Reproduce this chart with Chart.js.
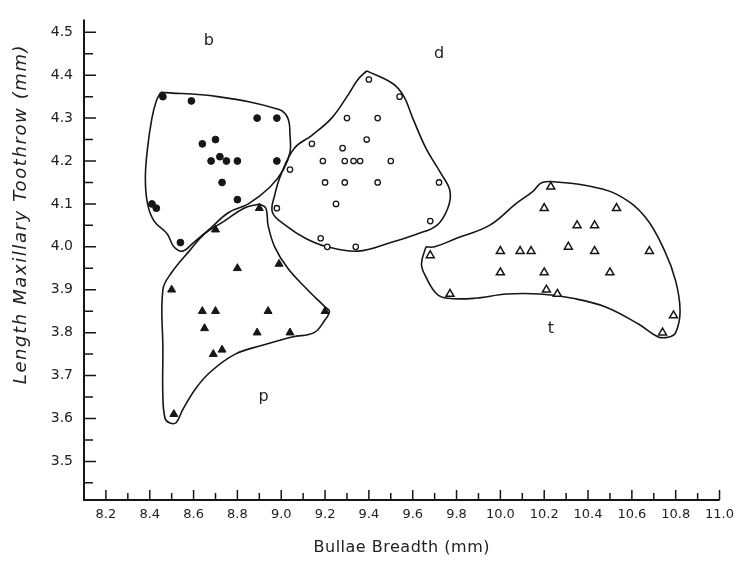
<!DOCTYPE html>
<html>
<head>
<meta charset="utf-8">
<script src="https://cdn.jsdelivr.net/npm/chart.js@4.4.0/dist/chart.umd.min.js"></script>
<style>
  html, body { margin: 0; padding: 0; background: #fff; }
  #wrap { width: 741px; height: 562px; }
</style>
</head>
<body>
<div id="wrap"><canvas id="chart" width="741" height="562"></canvas></div>
<script>
// Tick labels
const xTickLabels = [8.2, 8.4, 8.6, 8.8, 9.0, 9.2, 9.4, 9.6, 9.8, 10.0, 10.2, 10.4, 10.6, 10.8, 11.0];
const yTickLabels = [3.5, 3.6, 3.7, 3.8, 3.9, 4.0, 4.1, 4.2, 4.3, 4.4, 4.5];

// Group names and where their letters sit
const groupNames = ['b', 'd', 'p', 't'];
const labelX = [8.67, 9.72, 8.92, 10.23];
const labelY = [4.48, 4.45, 3.65, 3.81];

// b - filled circles
const bX = [8.46, 8.59, 8.89, 8.98, 8.64, 8.70, 8.72, 8.68, 8.75, 8.80, 8.98, 8.73, 8.80, 8.41, 8.43, 8.54];
const bY = [4.35, 4.34, 4.30, 4.30, 4.24, 4.25, 4.21, 4.20, 4.20, 4.20, 4.20, 4.15, 4.11, 4.10, 4.09, 4.01];

// d - open circles
const dX = [9.40, 9.54, 9.30, 9.44, 9.14, 9.39, 9.28, 9.19, 9.29, 9.33, 9.36, 9.50, 9.04, 9.20, 9.29, 9.44, 9.72, 9.25, 8.98, 9.68, 9.18, 9.21, 9.34];
const dY = [4.39, 4.35, 4.30, 4.30, 4.24, 4.25, 4.23, 4.20, 4.20, 4.20, 4.20, 4.20, 4.18, 4.15, 4.15, 4.15, 4.15, 4.10, 4.09, 4.06, 4.02, 4.00, 4.00];

// p - filled triangles
const pX = [8.90, 8.70, 8.80, 8.99, 8.50, 8.64, 8.70, 8.94, 9.20, 8.65, 8.89, 9.04, 8.69, 8.73, 8.51];
const pY = [4.09, 4.04, 3.95, 3.96, 3.90, 3.85, 3.85, 3.85, 3.85, 3.81, 3.80, 3.80, 3.75, 3.76, 3.61];

// t - open triangles
const tX = [10.23, 10.20, 10.53, 10.35, 10.43, 9.68, 10.00, 10.09, 10.14, 10.31, 10.43, 10.68, 10.00, 10.20, 10.50, 9.77, 10.21, 10.26, 10.79, 10.74];
const tY = [4.14, 4.09, 4.09, 4.05, 4.05, 3.98, 3.99, 3.99, 3.99, 4.00, 3.99, 3.99, 3.94, 3.94, 3.94, 3.89, 3.90, 3.89, 3.84, 3.80];

// hand drawn outlines round each group
const bOutlineX = [8.45, 8.71, 8.99, 9.03, 9.04, 9.04, 9.01, 8.95, 8.85, 8.76, 8.67, 8.60, 8.55, 8.51, 8.48, 8.42, 8.39, 8.38, 8.39, 8.41, 8.43, 8.45];
const bOutlineY = [4.36, 4.35, 4.32, 4.30, 4.26, 4.22, 4.18, 4.14, 4.10, 4.08, 4.04, 4.01, 3.99, 4.00, 4.03, 4.06, 4.10, 4.16, 4.23, 4.30, 4.34, 4.36];

const dOutlineX = [9.39, 9.51, 9.56, 9.60, 9.66, 9.73, 9.77, 9.76, 9.71, 9.62, 9.50, 9.35, 9.21, 9.11, 9.02, 8.96, 8.97, 9.00, 9.06, 9.14, 9.23, 9.30, 9.35, 9.39];
const dOutlineY = [4.41, 4.38, 4.35, 4.30, 4.23, 4.17, 4.13, 4.09, 4.05, 4.03, 4.01, 3.99, 4.00, 4.02, 4.05, 4.08, 4.12, 4.17, 4.23, 4.26, 4.30, 4.35, 4.39, 4.41];

const pOutlineX = [8.90, 8.93, 8.94, 8.97, 9.03, 9.12, 9.20, 9.22, 9.20, 9.15, 9.05, 8.91, 8.79, 8.68, 8.61, 8.55, 8.52, 8.49, 8.47, 8.46, 8.46, 8.46, 8.50, 8.58, 8.65, 8.74, 8.83, 8.90];
const pOutlineY = [4.10, 4.09, 4.05, 4.00, 3.95, 3.90, 3.86, 3.85, 3.83, 3.80, 3.79, 3.77, 3.75, 3.71, 3.67, 3.62, 3.59, 3.59, 3.60, 3.65, 3.76, 3.90, 3.94, 3.99, 4.03, 4.06, 4.09, 4.10];

const tOutlineX = [9.66, 9.70, 9.80, 9.95, 10.07, 10.15, 10.19, 10.28, 10.42, 10.54, 10.66, 10.75, 10.80, 10.82, 10.80, 10.77, 10.72, 10.63, 10.48, 10.33, 10.18, 10.03, 9.88, 9.76, 9.71, 9.66, 9.64, 9.66];
const tOutlineY = [4.00, 4.00, 4.02, 4.05, 4.10, 4.13, 4.15, 4.15, 4.14, 4.12, 4.07, 3.99, 3.92, 3.85, 3.80, 3.79, 3.79, 3.82, 3.86, 3.88, 3.89, 3.89, 3.88, 3.88, 3.89, 3.93, 3.96, 4.00];

const ink = '#161616';

function pairs(xs, ys) {
  return xs.map((x, i) => ({ x: x, y: ys[i] }));
}

function outline(xs, ys) {
  return {
    data: pairs(xs, ys),
    showLine: true,
    borderColor: ink,
    borderWidth: 1.6,
    tension: 0.4,
    pointRadius: 0,
    fill: false,
    order: 1
  };
}

// axis lines, inward ticks, titles and the group letters
const framePlugin = {
  id: 'frame',
  afterDraw(chart) {
    const { ctx, scales: { x, y } } = chart;
    ctx.save();
    ctx.strokeStyle = ink;
    ctx.lineWidth = 2;
    ctx.beginPath();
    ctx.moveTo(x.left, y.top);
    ctx.lineTo(x.left, y.bottom);
    ctx.lineTo(x.right, y.bottom);
    ctx.stroke();

    ctx.lineWidth = 1.5;
    ctx.beginPath();
    for (let i = 69; i <= 90; i++) {
      const py = y.getPixelForValue(i * 0.05);
      const len = i % 2 === 0 ? 12 : 9;
      ctx.moveTo(x.left, py);
      ctx.lineTo(x.left + len, py);
    }
    for (let i = 82; i <= 110; i++) {
      const px = x.getPixelForValue(i / 10);
      const len = i % 2 === 0 ? 10 : 7;
      ctx.moveTo(px, y.bottom);
      ctx.lineTo(px, y.bottom - len);
    }
    ctx.stroke();

    ctx.fillStyle = '#222';
    ctx.textAlign = 'center';
    ctx.textBaseline = 'middle';

    // x title
    ctx.font = '16px "DejaVu Sans"';
    ctx.letterSpacing = '0.5px';
    ctx.fillText('Bullae Breadth (mm)', (x.left + x.right) / 2, 548);

    // y title
    ctx.save();
    ctx.translate(21, 214);
    ctx.rotate(-Math.PI / 2);
    ctx.font = 'italic 18px "DejaVu Sans"';
    ctx.letterSpacing = '1.6px';
    ctx.fillText('Length Maxillary Toothrow (mm)', 0, 0);
    ctx.restore();

    // group letters
    ctx.letterSpacing = '0px';
    ctx.font = '16px "DejaVu Sans"';
    groupNames.forEach((name, i) => {
      ctx.fillText(name, x.getPixelForValue(labelX[i]), y.getPixelForValue(labelY[i]));
    });
    ctx.restore();
  }
};

const tickFont = { family: '"DejaVu Sans", sans-serif', size: 13 };

new Chart(document.getElementById('chart'), {
  type: 'scatter',
  data: {
    datasets: [
      { label: 'b', data: pairs(bX, bY), pointStyle: 'circle', pointRadius: 3.4, backgroundColor: ink, borderColor: ink, borderWidth: 1, order: 0 },
      { label: 'd', data: pairs(dX, dY), pointStyle: 'circle', pointRadius: 2.7, backgroundColor: '#fff', borderColor: ink, borderWidth: 1.3, order: 0 },
      { label: 'p', data: pairs(pX, pY), pointStyle: 'triangle', pointRadius: 4.6, backgroundColor: ink, borderColor: ink, borderWidth: 1, order: 0 },
      { label: 't', data: pairs(tX, tY), pointStyle: 'triangle', pointRadius: 4.6, backgroundColor: '#fff', borderColor: ink, borderWidth: 1.5, order: 0 },
      outline(bOutlineX, bOutlineY),
      outline(dOutlineX, dOutlineY),
      outline(pOutlineX, pOutlineY),
      outline(tOutlineX, tOutlineY)
    ]
  },
  options: {
    responsive: false,
    animation: false,
    layout: { padding: { top: 7, right: 16, left: 0, bottom: 0 } },
    plugins: {
      legend: { display: false },
      tooltip: { enabled: false }
    },
    scales: {
      x: {
        type: 'linear',
        min: 8.1,
        max: 11.0,
        grid: { display: false, drawTicks: false },
        border: { display: false },
        afterFit: s => { s.height = 62; },
        afterBuildTicks: s => { s.ticks = xTickLabels.map(v => ({ value: v })); },
        ticks: {
          autoSkip: false,
          maxRotation: 0,
          padding: 7,
          color: '#222',
          font: tickFont,
          callback: v => v.toFixed(1)
        }
      },
      y: {
        type: 'linear',
        min: 3.41,
        max: 4.53,
        grid: { display: false, drawTicks: false },
        border: { display: false },
        afterFit: s => { s.width = 84; },
        afterBuildTicks: s => { s.ticks = yTickLabels.map(v => ({ value: v })); },
        ticks: {
          padding: 11,
          color: '#222',
          font: { family: '"DejaVu Sans", sans-serif', size: 14 },
          callback: v => v.toFixed(1)
        }
      }
    }
  },
  plugins: [framePlugin]
});
</script>
</body>
</html>
